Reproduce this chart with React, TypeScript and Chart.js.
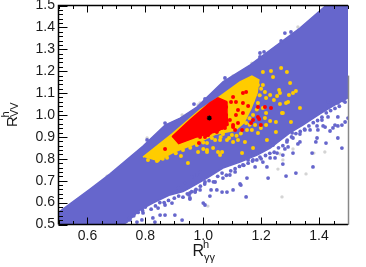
import React, { useEffect, useRef } from "react";
import { Chart, registerables } from "chart.js";

Chart.register(...registerables);

type P = [number, number];

const xTickLabels = [0.6, 0.8, 1.0, 1.2, 1.4];
const yTickLabels = [0.5, 0.6, 0.7, 0.8, 0.9, 1.0, 1.1, 1.2, 1.3, 1.4, 1.5];

const blueOutline: P[] = [
  [0.5, 0.555], [0.609, 0.662], [0.678, 0.731], [0.792, 0.858], [0.868, 0.954], [0.92, 0.986],
  [0.978, 1.036], [1.068, 1.151], [1.161, 1.228], [1.334, 1.397], [1.424, 1.5], [1.5, 1.5],
  [1.5, 1.078], [1.455, 1.046], [1.403, 1.005], [1.344, 0.954], [1.299, 0.918], [1.231, 0.849],
  [1.186, 0.817], [1.127, 0.785], [1.068, 0.758], [1.013, 0.712], [0.954, 0.667], [0.93, 0.65],
  [0.885, 0.635], [0.826, 0.598], [0.781, 0.566], [0.737, 0.511], [0.723, 0.5], [0.5, 0.5],
];
const orangeOutline: P[] = [
  [0.792, 0.808], [0.892, 0.913], [0.989, 1.023], [1.051, 1.078], [1.127, 1.151], [1.168, 1.178],
  [1.192, 1.16], [1.186, 1.1], [1.165, 1.03], [1.14, 0.965], [1.11, 0.93], [1.041, 0.912],
  [0.978, 0.872], [0.895, 0.828], [0.84, 0.79],
];
const redOutline: P[] = [
  [0.892, 0.9], [0.954, 0.977], [1.023, 1.055], [1.051, 1.078], [1.08, 1.062], [1.082, 1.0],
  [1.086, 0.955], [1.05, 0.925], [0.978, 0.9], [0.913, 0.868],
];

const blueDots: P[] = [
  [1.282, 1.374], [1.303, 1.379], [1.269, 1.338], [1.196, 1.283], [1.21, 1.288], [1.196, 1.265],
  [1.075, 1.169], [0.968, 1.05], [1.006, 1.073], [0.868, 0.963], [0.806, 0.886],
  [1.224, 0.712], [1.151, 0.712], [1.13, 0.68], [1.103, 0.658], [1.082, 0.648], [1.065, 0.648],
  [1.047, 0.658], [1.027, 0.658], [1.041, 0.694], [1.006, 0.694], [1.068, 0.712], [1.092, 0.726],
  [1.11, 0.74], [1.137, 0.772], [1.179, 0.763], [1.22, 0.763], [1.155, 0.795], [1.172, 0.795],
  [1.196, 0.808], [1.206, 0.785], [1.231, 0.804], [1.248, 0.804], [1.162, 0.826], [1.465, 0.895],
  [1.479, 0.849], [1.424, 0.872], [1.393, 0.895], [1.389, 0.877], [1.334, 0.877], [1.327, 0.868],
  [1.376, 0.826], [1.379, 0.763], [1.32, 0.735], [1.286, 0.721], [1.275, 0.776], [1.31, 0.826],
  [1.255, 0.826], [1.275, 0.817], [1.282, 0.845], [1.293, 0.854], [1.241, 0.863], [1.307, 0.918],
  [1.334, 0.913], [1.369, 0.932], [1.396, 0.932], [1.438, 0.927], [1.448, 0.941], [1.465, 0.95],
  [1.351, 0.932], [1.393, 0.95], [1.414, 0.95], [1.31, 0.895], [1.289, 0.877], [1.258, 0.886],
  [1.237, 0.877], [1.006, 0.589], [1.148, 0.626], [1.023, 0.63], [0.954, 0.616], [0.951, 0.635],
  [0.972, 0.653], [1.127, 0.685], [0.826, 0.53], [0.851, 0.543], [0.868, 0.543], [0.844, 0.575],
  [0.868, 0.589], [0.892, 0.598], [0.902, 0.543], [0.927, 0.52], [0.954, 0.644], [0.954, 0.621],
  [0.972, 0.648], [0.989, 0.658], [0.913, 0.667], [0.937, 0.69], [0.961, 0.717], [0.989, 0.74],
  [0.978, 0.726], [1.0, 0.598], [0.792, 0.553], [0.788, 0.521], [0.771, 0.511], [0.747, 0.521],
  [0.833, 0.511], [1.49, 0.968], [1.5, 0.986], [1.479, 0.954], [1.455, 0.954], [1.421, 0.945],
  [1.465, 0.991], [1.431, 0.991], [1.41, 0.977], [1.431, 1.059], [1.465, 1.055], [1.49, 1.059],
  [0.745, 0.53], [0.76, 0.54], [0.775, 0.555], [0.79, 0.565], [0.8, 0.58], [0.82, 0.57],
  [0.835, 0.585], [0.85, 0.6], [0.865, 0.6], [0.88, 0.61], [0.9, 0.62], [0.915, 0.63],
  [0.93, 0.625], [0.945, 0.64], [0.96, 0.65], [0.975, 0.66], [0.99, 0.675], [1.005, 0.685],
  [1.02, 0.7], [1.035, 0.695], [1.05, 0.72], [1.065, 0.735], [1.08, 0.725], [1.095, 0.745],
  [1.11, 0.755], [1.125, 0.765], [1.14, 0.77], [1.155, 0.78], [1.17, 0.79], [1.185, 0.795],
  [1.2, 0.8], [1.215, 0.815], [1.23, 0.825], [1.245, 0.83], [1.26, 0.85], [1.275, 0.86],
  [1.29, 0.885], [1.305, 0.9], [1.32, 0.915], [1.335, 0.925], [1.35, 0.935], [1.365, 0.95],
  [1.38, 0.965], [1.395, 0.975], [1.41, 0.99], [1.425, 1.01], [1.44, 1.02], [1.455, 1.03],
  [1.47, 1.04], [1.485, 1.065],
];
const grayDots: P[] = [
  [1.327, 1.402], [1.4, 1.466], [1.168, 1.237], [1.103, 1.178], [0.989, 1.055], [0.927, 1.0],
  [0.982, 1.046], [0.806, 0.895], [1.275, 0.795], [1.31, 0.845], [1.265, 0.822], [1.258, 0.753],
  [1.355, 0.731], [1.382, 0.826], [1.42, 0.831], [1.016, 0.584], [1.272, 0.626], [0.971, 0.648],
  [0.668, 0.721], [0.516, 0.571], [0.792, 0.557],
];
const orangeDots: P[] = [
  [1.206, 1.196], [1.234, 1.201], [1.269, 1.215], [1.289, 1.196], [1.241, 1.174], [1.3, 1.146],
  [1.32, 1.11], [1.31, 1.1], [1.262, 1.114], [1.265, 1.1], [1.255, 1.087], [1.296, 1.091],
  [1.231, 1.091], [1.213, 1.105], [1.206, 1.137], [1.189, 1.137], [1.179, 1.123], [1.172, 1.16],
  [1.217, 1.078], [1.244, 1.069], [1.265, 1.05], [1.286, 1.055], [1.293, 1.059], [1.334, 1.032],
  [1.272, 1.009], [1.275, 1.009], [1.303, 0.968], [1.251, 0.968], [1.231, 0.973], [1.217, 1.009],
  [1.206, 1.032], [1.189, 1.055], [1.172, 1.069], [1.155, 1.078], [1.148, 1.123], [1.213, 0.986],
  [1.148, 1.0], [1.172, 1.0], [1.179, 0.954], [1.251, 0.922], [1.217, 0.954], [1.199, 0.941],
  [1.148, 0.963], [1.172, 0.849], [1.134, 0.826], [1.22, 0.886], [1.168, 0.932], [1.189, 0.918],
  [1.12, 0.886], [1.089, 0.895], [1.099, 0.909], [1.068, 0.913], [1.082, 0.886], [1.058, 0.886],
  [1.051, 0.831], [1.065, 0.831], [1.058, 0.817], [1.034, 0.849], [1.013, 0.84], [1.0, 0.845],
  [0.982, 0.831], [1.103, 0.877], [1.151, 0.932], [1.144, 0.877], [1.041, 0.886], [1.013, 0.872],
  [0.978, 0.863], [0.947, 0.781], [0.923, 0.813], [0.844, 0.795], [0.809, 0.795], [0.84, 0.79],
  [1.013, 0.831], [1.195, 1.09], [1.2, 1.12], [1.185, 1.025], [1.16, 0.985], [1.16, 0.955],
  [1.13, 0.915], [1.115, 0.905], [1.06, 0.9], [1.03, 0.895], [1.0, 0.875], [0.955, 0.85],
  [0.93, 0.84], [0.905, 0.825], [0.875, 0.805], [0.86, 0.8],
];
const redDots: P[] = [
  [1.137, 1.1], [1.148, 1.105], [1.103, 1.082], [1.113, 1.059], [1.137, 1.055], [1.096, 1.059],
  [1.079, 1.037], [1.12, 1.023], [1.155, 1.041], [1.189, 1.037], [1.213, 1.037], [1.234, 1.032],
  [1.189, 0.991], [1.172, 0.977], [1.165, 0.964], [1.193, 0.982], [1.199, 0.954], [1.137, 1.009],
  [1.113, 1.0], [1.12, 0.963], [1.103, 0.954], [1.079, 1.0], [1.092, 0.977], [1.075, 0.941],
  [1.11, 0.932], [1.134, 0.932], [1.103, 0.945], [1.065, 0.941], [1.013, 0.909], [0.989, 0.9],
  [1.023, 0.918], [1.047, 0.922], [0.985, 0.872], [0.868, 0.845], [1.006, 0.9], [1.017, 0.909],
];
const bestPoint: P[] = [[1.021, 0.986]];

const BLUE = "#6666cc";
const ORANGE = "#ffcc00";
const RED = "#ff0000";
const GRAY = "#d4d4d4";
const INK = "#1a1a1a";
const FONT = '"Liberation Sans", Arial, sans-serif';

const toXY = (rows: P[]) => rows.map(([x, y]) => ({ x, y }));
const shape = (rows: P[], color: string, order: number) => ({
  data: toXY(rows),
  showLine: true,
  fill: "shape",
  backgroundColor: color,
  borderColor: color,
  borderWidth: 1.5,
  pointRadius: 0,
  order,
});
const dots = (rows: P[], color: string, radius: number, order: number) => ({
  data: toXY(rows),
  backgroundColor: color,
  borderWidth: 0,
  pointRadius: radius,
  order,
});

const frame = {
  id: "frame",
  afterDraw(chart: any) {
    const { ctx, chartArea: a } = chart;
    const L = a.left, R = a.right, T = a.top, B = a.bottom;
    const W = R - L, H = B - T;
    ctx.save();
    ctx.setLineDash([]);
    ctx.strokeStyle = "#000000";
    ctx.lineWidth = 1;
    ctx.beginPath();
    for (let i = 0; i <= 20; i++) {
      const major = xTickLabels.some((t) => Math.abs(t - (0.5 + i * 0.05)) < 1e-6);
      const len = major ? 7 : 3.5;
      const px = Math.round(L + (W * i) / 20) + 0.5;
      ctx.moveTo(px, B);
      ctx.lineTo(px, B - len);
      ctx.moveTo(px, T);
      ctx.lineTo(px, T + len);
    }
    for (let i = 0; i <= 50; i++) {
      const len = i % 5 === 0 ? 9 : 4.5;
      const py = Math.round(B - (H * i) / 50) + 0.5;
      ctx.moveTo(L, py);
      ctx.lineTo(L + len, py);
    }
    ctx.stroke();
    ctx.lineWidth = 1.5;
    ctx.beginPath();
    ctx.moveTo(L, B);
    ctx.lineTo(L, T);
    ctx.lineTo(R, T);
    ctx.moveTo(L, B);
    ctx.lineTo(R, B);
    ctx.stroke();
    ctx.strokeStyle = "#888888";
    ctx.beginPath();
    ctx.moveTo(R + 0.5, T + H * 0.32);
    ctx.lineTo(R + 0.5, B);
    ctx.stroke();

    ctx.fillStyle = INK;
    ctx.textBaseline = "alphabetic";
    ctx.textAlign = "left";
    ctx.font = `16px ${FONT}`;
    ctx.fillText("R", 192.5, 256);
    ctx.font = `11px ${FONT}`;
    ctx.fillText("h", 203, 247.5);
    ctx.fillText("\u03b3\u03b3", 204, 261);

    ctx.translate(17, 127);
    ctx.rotate(-Math.PI / 2);
    ctx.font = `15px ${FONT}`;
    ctx.fillText("R", 0, 0);
    ctx.font = `11px ${FONT}`;
    ctx.fillText("h", 9.5, -8.5);
    ctx.fillText("VV", 10, 0.5);
    ctx.restore();
  },
};

export default function App() {
  const ref = useRef<HTMLCanvasElement>(null);
  useEffect(() => {
    document.body.style.margin = "0";
    const chart = new Chart(ref.current!, {
      type: "scatter",
      data: {
        datasets: [
          shape(blueOutline, BLUE, 10),
          dots(grayDots, GRAY, 1.7, 11),
          dots(blueDots, BLUE, 1.9, 9),
          shape(orangeOutline, ORANGE, 8),
          dots(orangeDots, ORANGE, 2, 7),
          shape(redOutline, RED, 6),
          dots(redDots, RED, 2, 5),
          {
            data: toXY(bestPoint),
            pointStyle: "star",
            pointRadius: 2.5,
            borderColor: "#000",
            borderWidth: 1.2,
            backgroundColor: "#000",
            order: 1,
          },
        ] as any,
      },
      options: {
        responsive: false,
        animation: false,
        events: [],
        layout: { padding: { top: 5.5, right: 18, left: 0, bottom: 0 } },
        plugins: { legend: { display: false }, tooltip: { enabled: false } },
        scales: {
          x: {
            type: "linear",
            min: 0.5,
            max: 1.5,
            grid: { display: false, drawTicks: false },
            border: { display: false },
            afterBuildTicks: (s: any) => {
              s.ticks = xTickLabels.map((value) => ({ value }));
            },
            afterFit: (s: any) => {
              s.height = 42.5;
              s.paddingLeft = 0;
              s.paddingRight = 0;
            },
            ticks: {
              autoSkip: false,
              maxRotation: 0,
              padding: 3,
              color: INK,
              font: { family: FONT, size: 14 },
              callback: (v: any) => Number(v).toFixed(1),
            },
          },
          y: {
            type: "linear",
            min: 0.5,
            max: 1.5,
            grid: { display: false, drawTicks: false },
            border: { display: false },
            afterBuildTicks: (s: any) => {
              s.ticks = yTickLabels.map((value) => ({ value }));
            },
            afterFit: (s: any) => {
              s.width = 58.5;
              s.paddingTop = 0;
              s.paddingBottom = 0;
            },
            ticks: {
              autoSkip: false,
              padding: 3.5,
              color: INK,
              font: { family: FONT, size: 14 },
              callback: (v: any) => Number(v).toFixed(1),
            },
          },
        },
      },
      plugins: [frame],
    } as any);
    return () => chart.destroy();
  }, []);
  return (
    <canvas
      ref={ref}
      width={366}
      height={267}
      style={{ display: "block", width: 366, height: 267 }}
    />
  );
}
